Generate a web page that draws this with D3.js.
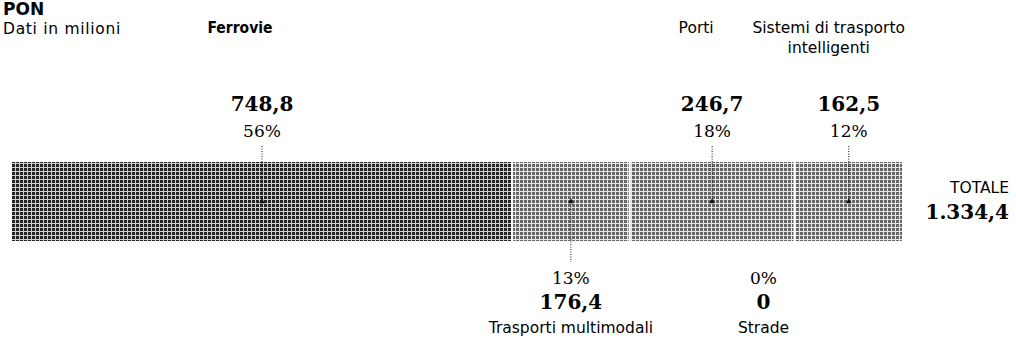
<!DOCTYPE html>
<html>
<head>
<meta charset="utf-8">
<script src="https://cdn.jsdelivr.net/npm/d3@7"></script>
<style>
  html, body { margin: 0; padding: 0; background: #fff; }
  svg { display: block; }
</style>
</head>
<body>
<div id="chart"></div>
<script>
// ---- data ----
const title = "PON";
const subtitle = "Dati in milioni";
const categories = ["Ferrovie", "Trasporti multimodali", "Porti", "Strade", "Sistemi di trasporto intelligenti"];
const values = [748.8, 176.4, 246.7, 0, 162.5];
const percentLabels = ["56%", "13%", "18%", "0%", "12%"];
const valueLabels = ["748,8", "176,4", "246,7", "0", "162,5"];
const totalLabel = "TOTALE";
const totalValue = "1.334,4";

// ---- layout (style only) ----
const W = 1016, H = 348;
const barX0 = 12, barX1 = 903, barY = 162, barH = 79;
const labelSide = ["top", "bottom", "top", "bottom", "top"];
const labelDx = [-22, 0, -16, -31, -20];
const catLines = [["Ferrovie"], ["Trasporti multimodali"], ["Porti"], ["Strade"], ["Sistemi di trasporto", "intelligenti"]];
const catBold = [true, false, false, false, false];

const sans = "'DejaVu Sans', sans-serif";
const sansCond = "'DejaVu Sans Condensed', 'DejaVu Sans', sans-serif";
const serif = "'DejaVu Serif', serif";

const svg = d3.select("#chart").append("svg").attr("width", W).attr("height", H);

// patterns
const defs = svg.append("defs");
function pattern(id, cell, line) {
  const p = defs.append("pattern").attr("id", id).attr("patternUnits", "userSpaceOnUse")
    .attr("width", 4).attr("height", 4);
  p.append("rect").attr("width", 4).attr("height", 4).attr("fill", line);
  p.append("rect").attr("width", 3).attr("height", 3).attr("fill", cell);
}
pattern("pDark", "#252525", "#cfcfcf");
pattern("pLight", "#666666", "#e8e8e8");

const total = d3.sum(values);
const x = d3.scaleLinear().domain([0, total]).range([barX0, barX1]);
const cum = d3.cumsum(values);
const segs = values.map((v, i) => ({ i, v, start: cum[i] - v, end: cum[i] }));

// bars
svg.append("g").selectAll("rect").data(segs.filter(d => d.v > 0)).join("rect")
  .attr("x", d => x(d.start) + (d.i === 0 ? 0 : 1))
  .attr("y", barY)
  .attr("width", d => x(d.end) - x(d.start) - (d.i === 0 ? 1 : 2))
  .attr("height", barH)
  .attr("fill", d => d.i === 0 ? "url(#pDark)" : "url(#pLight)");

const cy = barY + barH / 2;

// title
svg.append("text").attr("x", 3).attr("y", 15).text(title)
  .attr("font-family", sans).attr("font-weight", "bold").attr("font-size", 17).attr("fill", "#000");
svg.append("text").attr("x", 3).attr("y", 34).text(subtitle)
  .attr("font-family", sans).attr("font-size", 15.5).attr("letter-spacing", 0.7).attr("fill", "#000");

// annotations
const g = svg.append("g");
segs.forEach(d => {
  const cx = d.v > 0 ? (x(d.start) + x(d.end)) / 2 : x(d.start) + labelDx[d.i];
  const lx = d.v > 0 ? cx + labelDx[d.i] : cx;
  const top = labelSide[d.i] === "top";
  const ff = catBold[d.i] ? sansCond : sans;
  if (d.v > 0) {
    g.append("line").attr("x1", cx).attr("x2", cx)
      .attr("y1", top ? 146 : cy).attr("y2", top ? cy : 262)
      .attr("stroke", "#111").attr("stroke-width", 1).attr("stroke-dasharray", "1,1.5");
    g.append("path").attr("d", d3.symbol(d3.symbolTriangle, 14)())
      .attr("transform", `translate(${cx},${cy})`).attr("fill", "#111");
  }
  if (top) {
    catLines[d.i].forEach((t, k) => {
      g.append("text").attr("x", lx).attr("y", 33 + k * 20).attr("text-anchor", "middle")
        .attr("font-family", ff).attr("font-size", 15.5)
        .attr("font-weight", catBold[d.i] ? "bold" : "normal").text(t);
    });
    g.append("text").attr("x", cx).attr("y", 111).attr("text-anchor", "middle")
      .attr("font-family", serif).attr("font-weight", "bold").attr("font-size", 20).text(valueLabels[d.i]);
    g.append("text").attr("x", cx).attr("y", 137).attr("text-anchor", "middle")
      .attr("font-family", serif).attr("font-size", 17).text(percentLabels[d.i]);
  } else {
    g.append("text").attr("x", cx).attr("y", 284).attr("text-anchor", "middle")
      .attr("font-family", serif).attr("font-size", 17).text(percentLabels[d.i]);
    g.append("text").attr("x", cx).attr("y", 309).attr("text-anchor", "middle")
      .attr("font-family", serif).attr("font-weight", "bold").attr("font-size", 20).text(valueLabels[d.i]);
    catLines[d.i].forEach((t, k) => {
      g.append("text").attr("x", lx).attr("y", 333 + k * 20).attr("text-anchor", "middle")
        .attr("font-family", ff).attr("font-size", 15.5)
        .attr("font-weight", catBold[d.i] ? "bold" : "normal").text(t);
    });
  }
});

// total
svg.append("text").attr("x", 1009).attr("y", 193).attr("text-anchor", "end")
  .attr("font-family", sans).attr("font-size", 15.5).text(totalLabel);
svg.append("text").attr("x", 1009).attr("y", 219).attr("text-anchor", "end")
  .attr("font-family", serif).attr("font-weight", "bold").attr("font-size", 20).text(totalValue);
</script>
</body>
</html>
